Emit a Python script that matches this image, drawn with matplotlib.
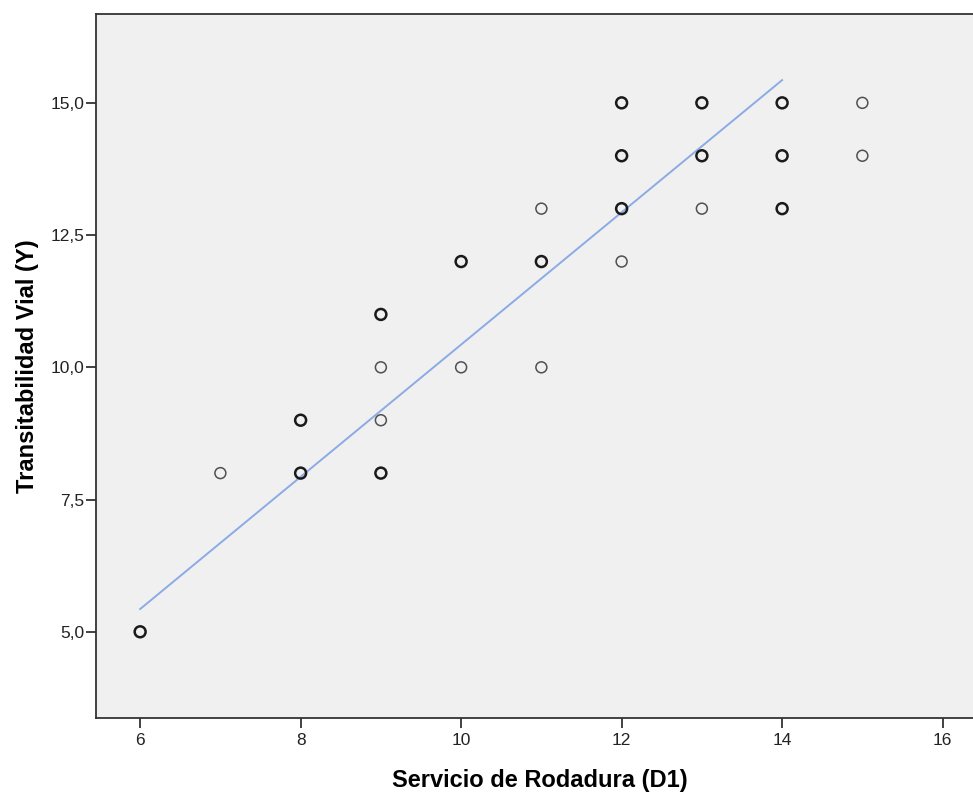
import matplotlib
matplotlib.use("Agg")
import matplotlib.pyplot as plt
import numpy as np

plt.rcParams['font.family'] = ['Liberation Sans', 'DejaVu Sans']

# Data (x = Servicio de Rodadura, y = Transitabilidad Vial, count = overlapping cases)
x_vals = [6, 7, 8, 8, 9, 9, 9, 9, 10, 10, 11, 11, 11, 12, 12, 12, 12, 13, 13, 13, 14, 14, 14, 15, 15]
y_vals = [5, 8, 9, 8, 11, 10, 9, 8, 12, 10, 13, 12, 10, 15, 14, 13, 12, 15, 14, 13, 15, 14, 13, 15, 14]
counts = [2, 1, 2, 2, 2, 1, 1, 2, 2, 1, 1, 2, 1, 2, 2, 2, 1, 2, 2, 1, 2, 2, 2, 1, 1]

# Fit line (linear regression as shown)
fit_intercept = -2.07
fit_slope = 1.25
fit_x_range = [6, 14]

x_ticks = [6, 8, 10, 12, 14, 16]
y_ticks = [5.0, 7.5, 10.0, 12.5, 15.0]
y_tick_labels = ["5,0", "7,5", "10,0", "12,5", "15,0"]

fig = plt.figure(figsize=(9.73, 7.96), dpi=100)
ax = fig.add_axes([96/973, 78/796, 1 - 96/973 + 0.01, (718-14)/796])
ax.set_facecolor('#F0F0F0')

ax.set_xlim(5.45, 16.5)
ax.set_ylim(3.37, 16.68)

fx = np.array(fit_x_range, dtype=float)
ax.plot(fx, fit_intercept + fit_slope * fx, color='#8CAAE6', lw=1.4, zorder=2)

xs = np.array(x_vals); ys = np.array(y_vals); cs = np.array(counts)
single = cs == 1
ax.scatter(xs[single], ys[single], s=62, facecolors='none', edgecolors='#505050', linewidths=1.1, zorder=3)
ax.scatter(xs[~single], ys[~single], s=62, facecolors='none', edgecolors='#1a1a1a', linewidths=1.8, zorder=3)

ax.set_xticks(x_ticks)
ax.set_xticklabels([str(t) for t in x_ticks])
ax.set_yticks(y_ticks)
ax.set_yticklabels(y_tick_labels)
ax.tick_params(axis='x', direction='out', length=7, width=1.3, color='#333333',
               labelsize=12.5, labelcolor='#222222', pad=4)
ax.tick_params(axis='y', direction='out', length=7, width=1.3, color='#333333',
               labelsize=12.5, labelcolor='#222222', pad=1.5)

for side in ['left', 'bottom', 'top', 'right']:
    ax.spines[side].set_color('#333333')
    ax.spines[side].set_linewidth(1.3)

ax.set_xlabel('Servicio de Rodadura (D1)', fontsize=17, fontweight='bold', labelpad=15)
ax.set_ylabel('Transitabilidad Vial (Y)', fontsize=17, fontweight='bold', labelpad=8)

fig.savefig('out.png', dpi=100, facecolor='white')
